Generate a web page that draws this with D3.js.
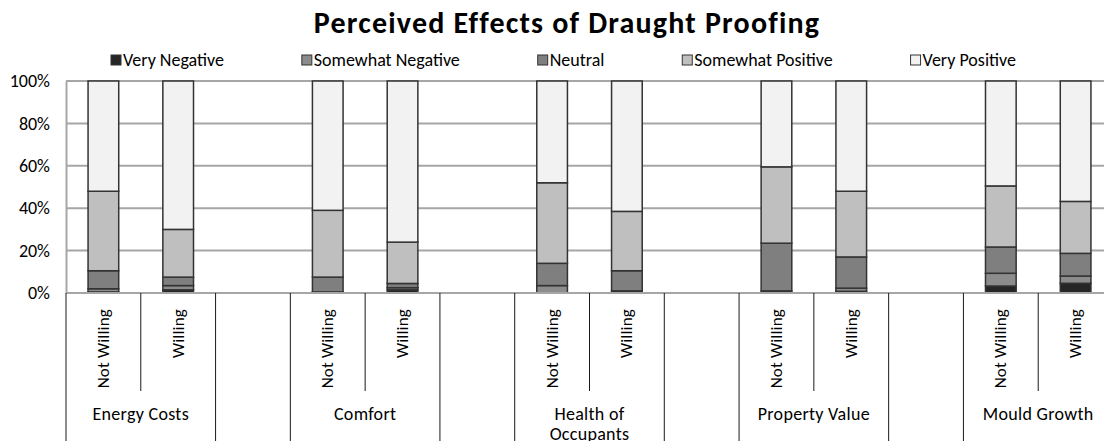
<!DOCTYPE html>
<html>
<head>
<meta charset="utf-8">
<script src="https://cdn.jsdelivr.net/npm/d3@7"></script>
<style>
  html, body { margin: 0; padding: 0; background: #fff; }
  svg { display: block; font-family: Carlito, Calibri, Lato, sans-serif; }
</style>
</head>
<body>
<svg id="chart" width="1104" height="441"></svg>
<script>
// ─── Data ────────────────────────────────────────────────────────────────────

const title = 'Perceived Effects of Draught Proofing';

const categories = ['Energy Costs', 'Comfort', 'Health of Occupants', 'Property Value', 'Mould Growth'];
const subCategories = ['Not Willing', 'Willing'];

const seriesNames = ['Very Negative', 'Somewhat Negative', 'Neutral', 'Somewhat Positive', 'Very Positive'];
const seriesColors = ['#262626', '#8c8c8c', '#7f7f7f', '#bfbfbf', '#f2f2f2'];

// one value per bar: Energy NW, Energy W, Comfort NW, Comfort W, Health NW, Health W,
// Property NW, Property W, Mould NW, Mould W  (percent)
const veryNegative     = [0.5, 1.5, 0.3, 1.5, 0.0, 1.0, 1.0, 0.8, 3.3, 4.6];
const somewhatNegative = [1.5, 2.0, 0.2, 1.0, 3.5, 0.0, 0.0, 1.5, 6.0, 3.4];
const neutral          = [8.5, 4.0, 7.0, 2.0, 10.5, 9.5, 22.5, 14.7, 12.4, 10.7];
const somewhatPositive = [37.5, 22.5, 31.5, 19.5, 38.0, 28.0, 36.0, 31.0, 28.8, 24.5];
const veryPositive     = [52.0, 70.0, 61.0, 76.0, 48.0, 61.5, 40.5, 52.0, 49.5, 56.8];

const yTicks = [0, 20, 40, 60, 80, 100];

// ─── Layout ──────────────────────────────────────────────────────────────────

const W = 1104, H = 441;
const plot = { left: 66, right: 1113, top: 81, bottom: 293 };
const gridColor = '#a6a6a6';
const labelFont = '18px';

const svg = d3.select('#chart');

// slots: each category gets its two bars, followed by an empty slot (except the last)
const slots = [];
categories.forEach((cat, i) => {
  subCategories.forEach(sub => slots.push({ key: `${i}-${sub}`, cat, sub, bar: true }));
  if (i < categories.length - 1) slots.push({ key: `${i}-blank`, cat: '', sub: '', bar: false });
});

const barSlots = slots.filter(s => s.bar);
const rows = barSlots.map((s, i) => ({
  key: s.key,
  'Very Negative': veryNegative[i],
  'Somewhat Negative': somewhatNegative[i],
  'Neutral': neutral[i],
  'Somewhat Positive': somewhatPositive[i],
  'Very Positive': veryPositive[i],
}));

const x = d3.scaleBand()
  .domain(slots.map(s => s.key))
  .range([plot.left, plot.right])
  .padding(0);

const y = d3.scaleLinear()
  .domain([0, 100])
  .range([plot.bottom, plot.top]);

const color = d3.scaleOrdinal().domain(seriesNames).range(seriesColors);

const barW = x.bandwidth() * 0.41;

// ─── Title ───────────────────────────────────────────────────────────────────

svg.append('text')
  .attr('x', 567).attr('y', 33)
  .attr('text-anchor', 'middle')
  .style('font-size', '30px').style('font-weight', 'bold')
  .style('letter-spacing', '1.2px')
  .text(title);

// ─── Legend ──────────────────────────────────────────────────────────────────

const legend = svg.append('g');
const legendItems = legend.selectAll('g').data(seriesNames).join('g');
legendItems.append('rect')
  .attr('x', 0).attr('y', -5).attr('width', 10).attr('height', 10)
  .attr('fill', d => color(d)).attr('stroke', '#333').attr('stroke-width', 1);
legendItems.append('text')
  .attr('x', 12).attr('y', 6)
  .style('font-size', '18px')
  .text(d => d);

const legendStart = 111, legendEnd = 1016;
const widths = legendItems.nodes().map(n => n.getBBox().width);
const gap = (legendEnd - legendStart - d3.sum(widths)) / (widths.length - 1);
let lx = legendStart;
legendItems.each(function(d, i) {
  d3.select(this).attr('transform', `translate(${lx},60)`);
  lx += widths[i] + gap;
});

// ─── Grid + y axis ───────────────────────────────────────────────────────────

svg.append('g').selectAll('line').data(yTicks.filter(t => t > 0)).join('line')
  .attr('x1', plot.left).attr('x2', W)
  .attr('y1', d => y(d)).attr('y2', d => y(d))
  .attr('stroke', gridColor).attr('stroke-width', 2);

const yAxis = svg.append('g')
  .attr('transform', `translate(${plot.left},0)`)
  .call(d3.axisLeft(y).tickValues(yTicks).tickFormat(d => d + '%').tickSize(0).tickPadding(16));
yAxis.select('.domain').attr('stroke', gridColor).attr('stroke-width', 2);
yAxis.selectAll('text').style('font-size', labelFont).style('font-family', 'Carlito, Calibri, Lato, sans-serif').attr('fill', '#000');

// ─── Bars ────────────────────────────────────────────────────────────────────

const stacked = d3.stack().keys(seriesNames)(rows);

svg.append('g').selectAll('g').data(stacked).join('g')
  .attr('fill', d => color(d.key))
  .selectAll('rect').data(d => d).join('rect')
  .attr('x', d => x(d.data.key) + (x.bandwidth() - barW) / 2)
  .attr('width', barW)
  .attr('y', d => y(d[1]))
  .attr('height', d => y(d[0]) - y(d[1]))
  .attr('stroke', '#333').attr('stroke-width', 1.5);

// ─── Multi-level x axis ──────────────────────────────────────────────────────

svg.append('line')
  .attr('x1', plot.left).attr('x2', W)
  .attr('y1', plot.bottom).attr('y2', plot.bottom)
  .attr('stroke', gridColor).attr('stroke-width', 2);

const axisG = svg.append('g');

// group boundaries: every group (including blank slot groups) gets full-height lines
const groupEdges = [];
slots.forEach((s, i) => {
  if (i === 0 || s.sub === subCategories[0] || !s.bar) groupEdges.push(x(s.key));
});
groupEdges.push(plot.right);

axisG.selectAll('line.group').data(groupEdges).join('line')
  .attr('class', 'group')
  .attr('x1', d => d).attr('x2', d => d)
  .attr('y1', plot.bottom).attr('y2', H)
  .attr('stroke', '#1a1a1a').attr('stroke-width', 1);

// short separators between the two bars of one category
axisG.selectAll('line.sub').data(slots.filter(s => s.sub === subCategories[1])).join('line')
  .attr('class', 'sub')
  .attr('x1', d => x(d.key)).attr('x2', d => x(d.key))
  .attr('y1', plot.bottom).attr('y2', 391)
  .attr('stroke', '#1a1a1a').attr('stroke-width', 1);

// rotated sub labels
axisG.selectAll('text.sub').data(barSlots).join('text')
  .attr('class', 'sub')
  .attr('transform', d => `translate(${x(d.key) + x.bandwidth() / 2},309) rotate(-90)`)
  .attr('text-anchor', 'end')
  .attr('dominant-baseline', 'central')
  .style('font-size', '17px')
  .style('letter-spacing', '0.2px')
  .text(d => d.sub);

// category labels, wrapped
const labelWrap = 130;
categories.forEach((cat, i) => {
  const cx = x(`${i}-Willing`);
  const t = axisG.append('text')
    .attr('x', cx).attr('y', 420)
    .attr('text-anchor', 'middle')
    .style('font-size', labelFont)
    .style('letter-spacing', '0.3px');
  const words = cat.split(' ');
  let line = [];
  let tspan = t.append('tspan').attr('x', cx).attr('dy', 0);
  words.forEach(w => {
    line.push(w);
    tspan.text(line.join(' '));
    if (tspan.node().getComputedTextLength() > labelWrap && line.length > 1) {
      line.pop();
      tspan.text(line.join(' '));
      line = [w];
      tspan = t.append('tspan').attr('x', cx).attr('dy', '1.1em').text(w);
    }
  });
});
</script>
</body>
</html>
